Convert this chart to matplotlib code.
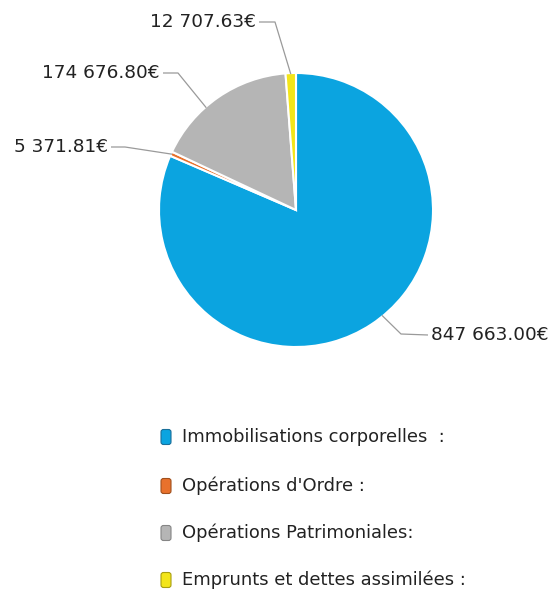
import numpy as np
import matplotlib
matplotlib.use("Agg")
import matplotlib.pyplot as plt
from matplotlib.patches import FancyBboxPatch

categories = ["Immobilisations corporelles  :", "Opérations d'Ordre :",
              "Opérations Patrimoniales:", "Emprunts et dettes assimilées :"]
values = [847663.00, 5371.81, 174676.80, 12707.63]
value_labels = ["847 663.00€", "5 371.81€", "174 676.80€", "12 707.63€"]
colors = ["#0BA4E0", "#E8712C", "#B5B5B5", "#F3E51A"]
edge_colors = ["#1a6f9a", "#a0501e", "#858585", "#a89e10"]

plt.rcParams['font.family'] = ['DejaVu Sans']

fig = plt.figure(figsize=(5.52, 5.94), dpi=100)
ax = fig.add_axes([0, 0, 1, 1])

cx, cy, r = 296, 210, 137
wedges, _ = ax.pie(values, colors=colors, startangle=-90, counterclock=True,
                   center=(cx, cy), radius=r,
                   wedgeprops=dict(edgecolor="white", linewidth=1.5))
ax.set_xlim(0, 552)
ax.set_ylim(594, 0)
ax.set_aspect('equal')
ax.axis('off')

# leader geometry: anchor fraction within wedge, elbow, text anchor (pixels)
label_pos = {
    0: dict(frac=0.48, elbow=(401, 334), text=(431, 335), ha='left'),
    1: dict(frac=0.5, elbow=(125, 147), text=(108, 147), ha='right'),
    2: dict(frac=0.39, elbow=(178, 73), text=(160, 73), ha='right'),
    3: dict(frac=0.5, elbow=(275, 22), text=(256, 22), ha='right'),
}
for i, w in enumerate(wedges):
    lp = label_pos[i]
    ang = np.deg2rad(w.theta1 + lp['frac'] * (w.theta2 - w.theta1))
    px, py = cx + (r - 1) * np.cos(ang), cy + (r - 1) * np.sin(ang)
    ex, ey = lp['elbow']
    tx, ty = lp['text']
    hx = tx - 3 if lp['ha'] == 'left' else tx + 3
    ax.plot([px, ex, hx], [py, ey, ty], color="#9a9a9a", lw=0.9,
            solid_capstyle='butt')
    ax.text(tx, ty, value_labels[i], ha=lp['ha'], va='center',
            fontsize=13.3, color="#222222")

# legend
leg_y = [437, 486, 533, 580]
for i, cat in enumerate(categories):
    ax.add_patch(FancyBboxPatch((161, leg_y[i] - 7.5), 10, 15,
                                boxstyle="round,pad=0,rounding_size=2.5",
                                facecolor=colors[i], edgecolor=edge_colors[i],
                                lw=0.8))
    ax.text(182, leg_y[i], cat, ha='left', va='center', fontsize=12.9,
            color="#222222")

fig.savefig("out.png", dpi=100, facecolor="white")
